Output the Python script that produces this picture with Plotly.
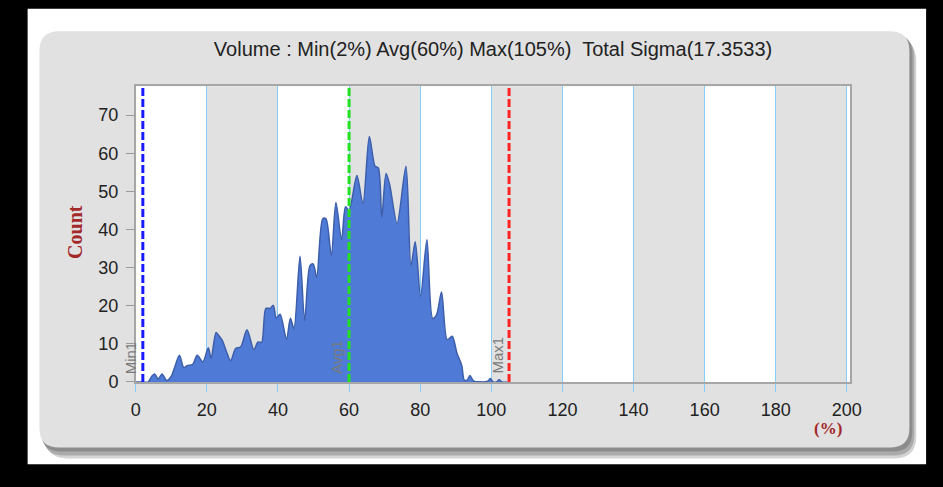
import plotly.graph_objects as go

# ---- data ----
volume_pct = [0, 2, 3.5, 4.5, 5.3, 6.3, 7.4, 8.7, 10.0, 11.0, 12.3, 13.5, 14.5, 16.0, 17.3, 18.9,
              20.4, 21.2, 22.6, 23.5, 24.4, 25.5, 26.7, 28.1, 29.5, 31.3, 33.2, 34.4, 35.4, 36.6,
              37.8, 38.7, 39.5, 40.6, 42.4, 43.5, 44.5, 46.2, 47.5, 49.0, 49.9, 50.9, 52.6, 53.5,
              55.0, 56.3, 57.9, 59.0, 60.0, 62.2, 63.9, 65.7, 67.3, 68.2, 69.2, 70.4, 71.4, 73.5,
              76.0, 77.4, 78.6, 80.1, 81.9, 83.5, 84.6, 86.0, 87.6, 89.0, 90.3, 91.7, 92.4, 93.2,
              94.0, 95.0, 99.0, 99.7, 100.5, 101.5, 102.2, 103.0, 104.5]
counts = [0, 0, 0, 1.5, 2.1, 0.8, 2.1, 0.4, 1.5, 4.0, 7.0, 3.8, 4.3, 4.6, 7.0, 5.3,
          9.0, 6.2, 13.0, 12.0, 10.8, 8.0, 5.6, 8.8, 9.2, 13.7, 8.5, 10.5, 10.4, 19.3,
          19.3, 20.1, 16.8, 17.8, 11.2, 16.7, 14.0, 33.0, 16.0, 30.5, 31.0, 27.5, 42.8, 42.8,
          33.2, 47.1, 37.2, 46.0, 45.0, 54.2, 46.7, 64.4, 56.6, 56.2, 43.3, 54.7, 51.8, 41.6,
          56.6, 30.4, 36.8, 22.5, 37.3, 16.7, 17.6, 23.6, 11.1, 12.0, 7.7, 4.3, 0.5, 0.5,
          1.7, 0.3, 0.2, 0.9, 0, 0, 0.6, 0, 0]

marker_names = ["Min1", "Avg1", "Max1"]
marker_values = [2, 60, 105]
marker_colors = ["#1a1aff", "#22e022", "#ff2424"]

x_ticks = [0, 20, 40, 60, 80, 100, 120, 140, 160, 180, 200]
y_ticks = [0, 10, 20, 30, 40, 50, 60, 70]
title_text = "Volume : Min(2%) Avg(60%) Max(105%)  Total Sigma(17.3533)"

# ---- layout helpers ----
W, H = 943, 487
PX0, PX1, PY0, PY1 = 133, 860, 88, 390  # plot area in pixels


def fx(px):
    return px / W


def fy(py):
    return 1 - py / H


def rounded(x0, y0, x1, y1, r):
    p = [
        f"M {fx(x0 + r)} {fy(y0)}",
        f"L {fx(x1 - r)} {fy(y0)}",
        f"Q {fx(x1)} {fy(y0)} {fx(x1)} {fy(y0 + r)}",
        f"L {fx(x1)} {fy(y1 - r)}",
        f"Q {fx(x1)} {fy(y1)} {fx(x1 - r)} {fy(y1)}",
        f"L {fx(x0 + r)} {fy(y1)}",
        f"Q {fx(x0)} {fy(y1)} {fx(x0)} {fy(y1 - r)}",
        f"L {fx(x0)} {fy(y0 + r)}",
        f"Q {fx(x0)} {fy(y0)} {fx(x0 + r)} {fy(y0)}",
        "Z",
    ]
    return " ".join(p)


shapes = []
# white frame inside black border
shapes.append(dict(type="rect", xref="paper", yref="paper", x0=fx(23), x1=fx(937), y0=fy(474), y1=fy(9),
                   fillcolor="white", line=dict(width=0), layer="below"))
# shadow
shapes.append(dict(type="path", xref="paper", yref="paper", path=rounded(41, 40, 927, 468, 22),
                   fillcolor="#d4d4d4", line=dict(width=0), layer="below"))
shapes.append(dict(type="path", xref="paper", yref="paper", path=rounded(39, 37, 925, 465, 21),
                   fillcolor="#ababab", line=dict(width=0), layer="below"))
shapes.append(dict(type="path", xref="paper", yref="paper", path=rounded(37, 35, 923, 461, 20),
                   fillcolor="#8c8c8c", line=dict(width=0), layer="below"))
# panel
shapes.append(dict(type="path", xref="paper", yref="paper", path=rounded(35, 32, 920, 457, 20),
                   fillcolor="#e1e1e1", line=dict(width=0), layer="below"))
# white plot background
shapes.append(dict(type="rect", xref="x domain", yref="y domain", x0=0, x1=1, y0=0, y1=1,
                   fillcolor="white", line=dict(width=0), layer="below"))
# alternating grey bands
band_starts = [20, 60, 100, 140, 180]
for b in band_starts:
    shapes.append(dict(type="rect", xref="x", yref="y domain", x0=b, x1=min(b + 20, 201), y0=0, y1=1,
                       fillcolor="#e1e1e1", line=dict(width=0), layer="below"))
# marker lines
for v, c in zip(marker_values, marker_colors):
    shapes.append(dict(type="line", xref="x", yref="y domain", x0=v, x1=v, y0=0, y1=1,
                       line=dict(color=c, width=3, dash="8px,3px"), layer="above"))

annotations = []
for n, v in zip(marker_names, marker_values):
    annotations.append(dict(x=v, y=0, xref="x", yref="y", text=n, showarrow=False, textangle=-90,
                            xanchor="center", yanchor="bottom", xshift=-12, yshift=6,
                            font=dict(family="Liberation Sans", size=15, color="#7a7a7a")))
annotations.append(dict(x=fx(71), y=fy(237), xref="paper", yref="paper", text="<b>Count</b>",
                        showarrow=False, textangle=-90, xanchor="center", yanchor="middle",
                        font=dict(family="Liberation Serif", size=20, color="#a3282a")))
annotations.append(dict(x=fx(837.5), y=fy(437), xref="paper", yref="paper", text="<b>(%)</b>",
                        showarrow=False, xanchor="center", yanchor="middle",
                        font=dict(family="Liberation Serif", size=17, color="#a3282a")))

fig = go.Figure()
fig.add_trace(go.Scatter(x=volume_pct, y=counts, mode="lines", fill="tozeroy",
                         fillcolor="#4f7ad6", line=dict(color="#3d5fab", width=1.5, shape="spline",
                                                        smoothing=0.8),
                         showlegend=False, hoverinfo="skip"))

fig.update_layout(
    width=W, height=H, autosize=False,
    margin=dict(l=0, r=0, t=0, b=0),
    paper_bgcolor="black", plot_bgcolor="rgba(0,0,0,0)",
    title=dict(text=title_text, x=fx((PX0 + PX1) / 2), y=fy(50), xref="paper", yref="paper",
               xanchor="center", yanchor="middle",
               font=dict(family="Liberation Sans", size=20, color="#222222")),
    shapes=shapes, annotations=annotations, showlegend=False,
    xaxis=dict(domain=[fx(PX0), fx(PX1)], range=[0, 201], tickvals=x_ticks, ticks="outside", ticklen=8,
               tickcolor="#87cefa", tickwidth=1.3, showgrid=True, gridcolor="#87cefa", gridwidth=1.3,
               zeroline=False, showline=True, linecolor="#a6a6a6", linewidth=1.5, mirror=True,
               ticklabelstandoff=3,
               tickfont=dict(family="Liberation Sans", size=18, color="#222222")),
    yaxis=dict(domain=[fy(PY1), fy(PY0)], range=[0, 77.6], tickvals=y_ticks, ticks="outside", ticklen=8,
               tickcolor="#999999", showgrid=False, zeroline=False, showline=True, linecolor="#a6a6a6",
               linewidth=1.5, mirror=True, ticklabelstandoff=4,
               tickfont=dict(family="Liberation Sans", size=18, color="#222222")),
)

fig.write_html("out.html", config={"displayModeBar": False},
               post_script="document.body.style.margin='0';document.body.style.background='black';")
